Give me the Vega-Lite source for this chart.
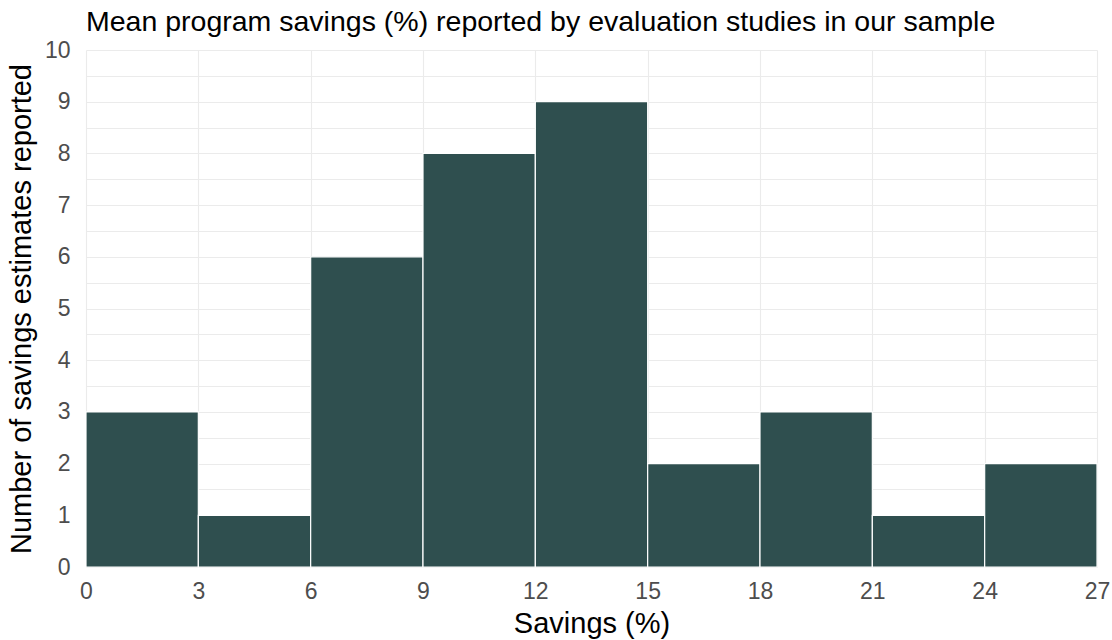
{
  "$schema": "https://vega.github.io/schema/vega-lite/v6.json",
  "width": 1011,
  "height": 517,
  "autosize": {"type": "none"},
  "padding": {"left": 86, "top": 50, "right": 15, "bottom": 73},
  "background": "white",
  "config": {
    "font": "Liberation Sans",
    "view": {"stroke": null},
    "axis": {
      "domain": false,
      "ticks": false,
      "gridColor": "#EBEBEB",
      "gridWidth": 1.1,
      "labelColor": "#4D4D4D",
      "labelFontSize": 23,
      "titleFontSize": 29,
      "titleFontWeight": "normal",
      "titleColor": "#000000"
    }
  },
  "title": {
    "text": "Mean program savings (%) reported by evaluation studies in our sample",
    "anchor": "start",
    "frame": "group",
    "fontSize": 28.5,
    "fontWeight": "normal",
    "color": "#000000",
    "offset": 3
  },
  "data": {
    "values": [
      {"bin_start": 0, "bin_end": 3, "count": 3},
      {"bin_start": 3, "bin_end": 6, "count": 1},
      {"bin_start": 6, "bin_end": 9, "count": 6},
      {"bin_start": 9, "bin_end": 12, "count": 8},
      {"bin_start": 12, "bin_end": 15, "count": 9},
      {"bin_start": 15, "bin_end": 18, "count": 2},
      {"bin_start": 18, "bin_end": 21, "count": 3},
      {"bin_start": 21, "bin_end": 24, "count": 1},
      {"bin_start": 24, "bin_end": 27, "count": 2}
    ]
  },
  "mark": {"type": "rect", "fill": "#2F4F4F", "stroke": "white", "strokeWidth": 1.2},
  "encoding": {
    "x": {
      "field": "bin_start",
      "type": "quantitative",
      "scale": {"domain": [0, 27], "nice": false, "zero": false},
      "axis": {
        "title": "Savings (%)",
        "values": [0, 3, 6, 9, 12, 15, 18, 21, 24, 27],
        "labelPadding": 13,
        "titlePadding": 6,
        "labelFlush": false
      }
    },
    "x2": {"field": "bin_end"},
    "y": {
      "field": "count",
      "type": "quantitative",
      "scale": {"domain": [0, 10], "nice": false},
      "axis": {
        "title": "Number of savings estimates reported",
        "values": [0, 0.5, 1, 1.5, 2, 2.5, 3, 3.5, 4, 4.5, 5, 5.5, 6, 6.5, 7, 7.5, 8, 8.5, 9, 9.5, 10],
        "labelExpr": "datum.value % 1 === 0 ? format(datum.value, 'd') : ''",
        "labelPadding": 16,
        "titlePadding": 8,
        "labelFlush": false
      }
    },
    "y2": {"datum": 0}
  }
}
